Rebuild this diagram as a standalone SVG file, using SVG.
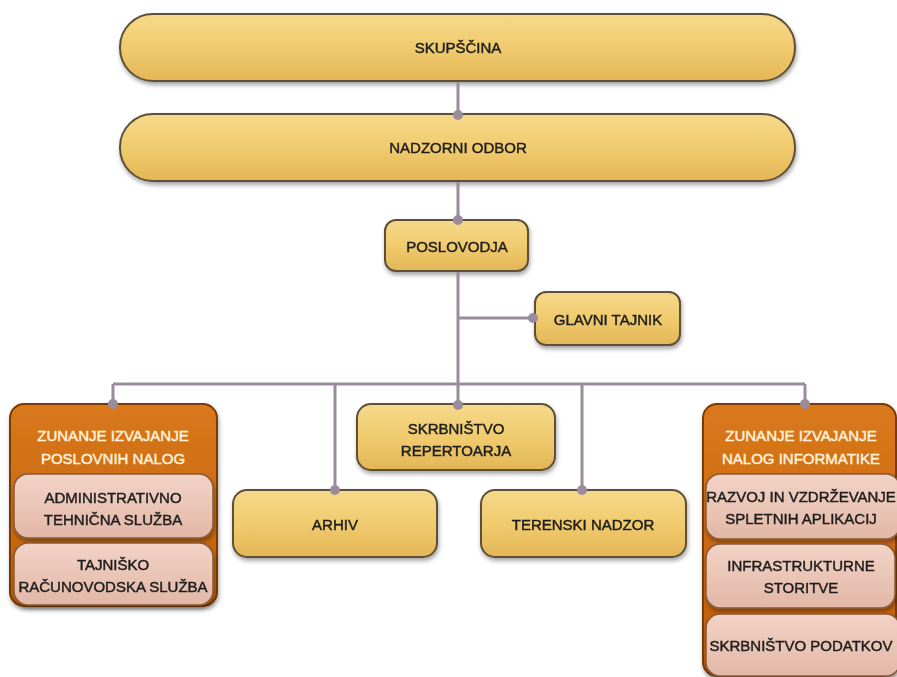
<svg xmlns="http://www.w3.org/2000/svg" width="897" height="677" viewBox="0 0 897 677">
<defs>
<linearGradient id="gold" x1="0" y1="0" x2="0" y2="1">
<stop offset="0" stop-color="#F5D98A"/>
<stop offset="0.5" stop-color="#F0CB6E"/>
<stop offset="1" stop-color="#E3B656"/>
</linearGradient>
<linearGradient id="orange" x1="0" y1="0" x2="0" y2="1">
<stop offset="0" stop-color="#D9781C"/>
<stop offset="1" stop-color="#BF5E08"/>
</linearGradient>
<linearGradient id="pink" x1="0" y1="0" x2="0" y2="1">
<stop offset="0" stop-color="#F2D3C6"/>
<stop offset="1" stop-color="#E2B7A6"/>
</linearGradient>
<filter id="sh" x="-10%" y="-10%" width="120%" height="130%">
<feDropShadow dx="1" dy="3" stdDeviation="2" flood-color="#000" flood-opacity="0.35"/>
</filter>
</defs>
<style>
.g{fill:url(#gold);stroke:#5E5037;stroke-width:2}
.o{fill:url(#orange);stroke:#7A3A05;stroke-width:2}
.p{fill:url(#pink);stroke:#8A5A3A;stroke-width:1.5}
.t{font-family:"Liberation Sans",Arial,sans-serif;font-size:15px;fill:#1E1E1E;stroke:#1E1E1E;stroke-width:0.45;text-anchor:middle;dominant-baseline:central}
.w{fill:#FFF3DE;stroke:#FFF3DE}
.c{fill:none;stroke:#9A8C9C;stroke-width:3}
.d{fill:#9A8C9C}
</style>
<rect width="897" height="677" fill="#FFFFFF"/>
<g id="skupscina" filter="url(#sh)">
<rect class="g" x="120" y="14" width="675" height="67" rx="33"/>
<text class="t" x="458" y="47">SKUPŠČINA</text>
</g>
<g id="nadzorni-odbor" filter="url(#sh)">
<rect class="g" x="120" y="114" width="675" height="67" rx="33"/>
<text class="t" x="458" y="147">NADZORNI ODBOR</text>
</g>
<g id="poslovodja" filter="url(#sh)">
<rect class="g" x="385" y="220" width="143" height="51" rx="11"/>
<text class="t" x="457" y="246">POSLOVODJA</text>
</g>
<g id="glavni-tajnik" filter="url(#sh)">
<rect class="g" x="535" y="292" width="145" height="53" rx="11"/>
<text class="t" x="608" y="319">GLAVNI TAJNIK</text>
</g>
<g id="skrbnistvo-repertoarja" filter="url(#sh)">
<rect class="g" x="357" y="404" width="198" height="66" rx="14"/>
<text class="t" x="456" y="428">SKRBNIŠTVO</text>
<text class="t" x="456" y="450">REPERTOARJA</text>
</g>
<g id="arhiv" filter="url(#sh)">
<rect class="g" x="233" y="490" width="204" height="67" rx="14"/>
<text class="t" x="335" y="524">ARHIV</text>
</g>
<g id="terenski-nadzor" filter="url(#sh)">
<rect class="g" x="481" y="490" width="205" height="67" rx="14"/>
<text class="t" x="583" y="524">TERENSKI NADZOR</text>
</g>
<g id="zunanje-poslovnih">
<rect class="o" x="10" y="404" width="207" height="202" rx="14" filter="url(#sh)"/>
<text class="t w" x="113" y="435">ZUNANJE IZVAJANJE</text>
<text class="t w" x="113" y="458">POSLOVNIH NALOG</text>
<g id="administrativno" filter="url(#sh)">
<rect class="p" x="14" y="474" width="199" height="64" rx="14"/>
<text class="t" x="113" y="497">ADMINISTRATIVNO</text>
<text class="t" x="113" y="519">TEHNIČNA SLUŽBA</text>
</g>
<g id="tajnisko" filter="url(#sh)">
<rect class="p" x="14" y="543" width="199" height="62" rx="14"/>
<text class="t" x="113" y="564">TAJNIŠKO</text>
<text class="t" x="113" y="586">RAČUNOVODSKA SLUŽBA</text>
</g>
</g>
<g id="zunanje-informatike">
<rect class="o" x="703" y="404" width="193" height="272" rx="14" filter="url(#sh)"/>
<text class="t w" x="801" y="435">ZUNANJE IZVAJANJE</text>
<text class="t w" x="801" y="458">NALOG INFORMATIKE</text>
<g id="razvoj" filter="url(#sh)">
<rect class="p" x="706" y="474" width="194" height="65" rx="14"/>
<text class="t" x="801" y="496">RAZVOJ IN VZDRŽEVANJE</text>
<text class="t" x="801" y="518">SPLETNIH APLIKACIJ</text>
</g>
<g id="infrastrukturne" filter="url(#sh)">
<rect class="p" x="706" y="544" width="189" height="64" rx="14"/>
<text class="t" x="801" y="565">INFRASTRUKTURNE</text>
<text class="t" x="801" y="587">STORITVE</text>
</g>
<g id="skrbnistvo-podatkov" filter="url(#sh)">
<rect class="p" x="706" y="614" width="194" height="62" rx="14"/>
<text class="t" x="801" y="645">SKRBNIŠTVO PODATKOV</text>
</g>
</g>
<g id="connectors">
<path class="c" d="M458 82V115M458 182V220M458 272V384M458 318H533M113 384H805M113 384V404M335 384V490M458 384V405M582 384V490M805 384V404"/>
<circle class="d" cx="458" cy="115" r="5"/>
<circle class="d" cx="458" cy="220" r="5"/>
<circle class="d" cx="533" cy="318" r="5"/>
<circle class="d" cx="113" cy="404" r="5"/>
<circle class="d" cx="335" cy="490" r="5"/>
<circle class="d" cx="458" cy="405" r="5"/>
<circle class="d" cx="582" cy="490" r="5"/>
<circle class="d" cx="805" cy="404" r="5"/>
</g>
</svg>
